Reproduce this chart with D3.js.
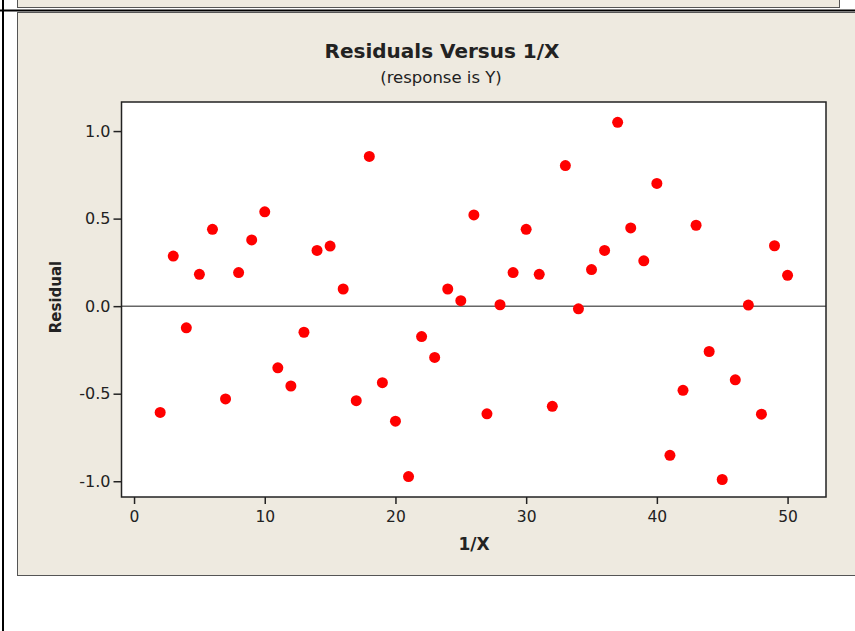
<!DOCTYPE html>
<html>
<head>
<meta charset="utf-8">
<script src="https://cdn.jsdelivr.net/npm/d3@7"></script>
<style>
  body { margin: 0; background: #fff; }
  svg text { font-family: "DejaVu Sans", sans-serif; fill: #222; }
  .axis path { display: none; }
  .axis line { stroke: #222; stroke-width: 1.5; }
  .axis text { font-size: 15.5px; }
</style>
</head>
<body>
<script>
//data
var xValues = [2, 3, 4, 5, 6, 7, 8, 9, 10, 11, 12, 13, 14, 15, 16, 17, 18, 19, 20, 21, 22, 23, 24, 25, 26,
    27, 28, 29, 30, 31, 32, 33, 34, 35, 36, 37, 38, 39, 40, 41, 42, 43, 44, 45, 46, 47, 48, 49, 50];
var residuals = [-0.607, 0.286, -0.124, 0.182, 0.439, -0.530, 0.192, 0.378, 0.539, -0.352, -0.456, -0.149,
    0.318, 0.343, 0.098, -0.540, 0.855, -0.437, -0.657, -0.973, -0.174, -0.293, 0.098, 0.031, 0.521,
    -0.615, 0.008, 0.192, 0.439, 0.182, -0.572, 0.803, -0.015, 0.209, 0.318, 1.050, 0.447, 0.259,
    0.701, -0.852, -0.481, 0.462, -0.259, -0.990, -0.421, 0.006, -0.617, 0.345, 0.176];
var xTicks = [0, 10, 20, 30, 40, 50];
var yTicks = [-1.0, -0.5, 0.0, 0.5, 1.0];

(function(){

var width = 855,
    height = 631;

var svg = d3.select("body")
    .append("svg")
    .attr("width", width)
    .attr("height", height);

//window chrome round the graph
svg.append("rect")
    .attr("x", 17.5).attr("y", -2)
    .attr("width", 822).attr("height", 9.5)
    .style("fill", "#eeeae0")
    .style("stroke", "#555");

svg.append("line")
    .attr("x1", 0).attr("x2", width)
    .attr("y1", 10.5).attr("y2", 10.5)
    .style("stroke", "#000")
    .style("stroke-width", 2);

svg.append("line")
    .attr("x1", 3).attr("x2", 3)
    .attr("y1", 0).attr("y2", height)
    .style("stroke", "#000")
    .style("stroke-width", 2);

//graph panel
svg.append("rect")
    .attr("x", 17.5).attr("y", 12.5)
    .attr("width", 850).attr("height", 563)
    .style("fill", "#eeeae0")
    .style("stroke", "#555");

//plot area
var plotLeft = 121.5, plotRight = 826, plotTop = 102, plotBottom = 497;

var x = d3.scaleLinear()
    .domain([-0.96, 52.94])
    .range([plotLeft, plotRight]);

var y = d3.scaleLinear()
    .domain([-1.09, 1.166])
    .range([plotBottom, plotTop]);

svg.append("rect")
    .attr("x", plotLeft).attr("y", plotTop)
    .attr("width", plotRight - plotLeft).attr("height", plotBottom - plotTop)
    .style("fill", "#fff");

//reference line at zero
svg.append("line")
    .attr("x1", plotLeft).attr("x2", plotRight)
    .attr("y1", y(0)).attr("y2", y(0))
    .style("stroke", "#666")
    .style("stroke-width", 1.5);

//points
svg.selectAll(".dot")
    .data(xValues)
    .enter()
    .append("circle")
    .attr("class", "dot")
    .attr("cx", function(d){ return x(d); })
    .attr("cy", function(d, i){ return y(residuals[i]); })
    .attr("r", 5.5)
    .style("fill", "#ff0000");

//frame
svg.append("rect")
    .attr("x", plotLeft).attr("y", plotTop)
    .attr("width", plotRight - plotLeft).attr("height", plotBottom - plotTop)
    .style("fill", "none")
    .style("stroke", "#222")
    .style("stroke-width", 1.5);

//axes
var xAxis = d3.axisBottom(x)
    .tickValues(xTicks)
    .tickSize(7)
    .tickPadding(7)
    .tickFormat(d3.format("d"));

svg.append("g")
    .attr("class", "axis")
    .attr("transform", "translate(0," + plotBottom + ")")
    .call(xAxis);

//plain hyphen for the minus sign, as in the original
var yAxis = d3.axisLeft(y)
    .tickValues(yTicks)
    .tickSize(8)
    .tickPadding(3)
    .tickFormat(function(d){ return d3.format(".1f")(d).replace("\u2212", "-"); });

svg.append("g")
    .attr("class", "axis")
    .attr("transform", "translate(" + plotLeft + ",0)")
    .call(yAxis)
    .selectAll("text")
    .style("font-size", "16px");

//titles
svg.append("text")
    .attr("x", 442).attr("y", 58)
    .attr("text-anchor", "middle")
    .style("font-size", "20px")
    .style("font-weight", "bold")
    .text("Residuals Versus 1/X");

svg.append("text")
    .attr("x", 441).attr("y", 83)
    .attr("text-anchor", "middle")
    .style("font-size", "16.5px")
    .text("(response is Y)");

svg.append("text")
    .attr("x", 474).attr("y", 550)
    .attr("text-anchor", "middle")
    .style("font-size", "17px")
    .style("font-weight", "bold")
    .text("1/X");

svg.append("text")
    .attr("transform", "translate(61,297) rotate(-90)")
    .attr("text-anchor", "middle")
    .style("font-size", "15px")
    .style("font-weight", "bold")
    .text("Residual");

})();
</script>
</body>
</html>
